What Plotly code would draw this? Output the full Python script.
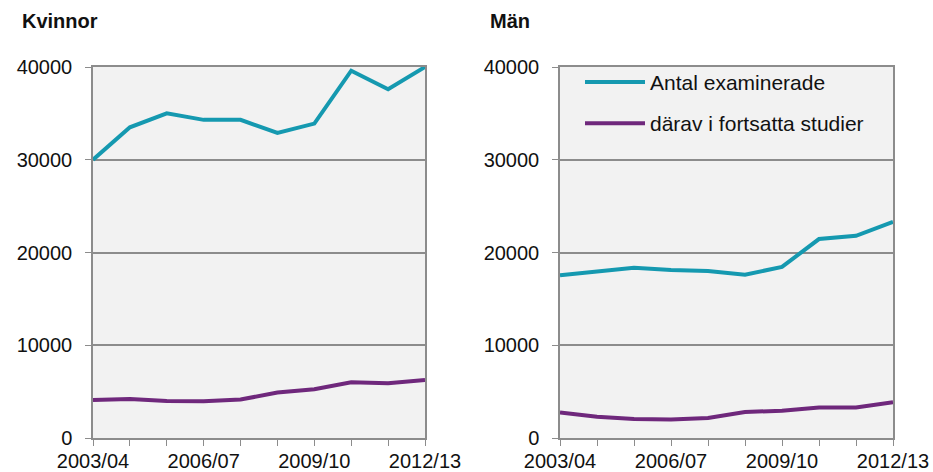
import plotly.graph_objects as go
from plotly.subplots import make_subplots

years = ['2003/04', '2004/05', '2005/06', '2006/07', '2007/08',
         '2008/09', '2009/10', '2010/11', '2011/12', '2012/13']
tick_text = ['2003/04', '', '', '2006/07', '', '', '2009/10', '', '', '2012/13']

kvinnor_examinerade = [30000, 33500, 35000, 34300, 34300, 32900, 33900, 39600, 37600, 40000]
kvinnor_fortsatta = [4100, 4200, 4000, 3950, 4150, 4900, 5250, 6000, 5900, 6250]
man_examinerade = [17550, 17950, 18350, 18100, 18000, 17600, 18450, 21450, 21800, 23300]
man_fortsatta = [2750, 2300, 2050, 2000, 2150, 2800, 2950, 3300, 3300, 3850]

TEAL = '#1599B0'
PURPLE = '#6F287C'
FONT = 'Liberation Sans, Arial, sans-serif'

W, H = 933, 472
TOP, BOTTOM = 67, 34

fig = make_subplots(rows=1, cols=2)

fig.add_trace(go.Scatter(x=years, y=kvinnor_examinerade, mode='lines', showlegend=False,
                         line=dict(color=TEAL, width=4)), row=1, col=1)
fig.add_trace(go.Scatter(x=years, y=kvinnor_fortsatta, mode='lines', showlegend=False,
                         line=dict(color=PURPLE, width=4)), row=1, col=1)
fig.add_trace(go.Scatter(x=years, y=man_examinerade, mode='lines', name='Antal examinerade',
                         legendgroup='a', line=dict(color=TEAL, width=4)), row=1, col=2)
fig.add_trace(go.Scatter(x=years, y=man_fortsatta, mode='lines', name='därav i fortsatta studier',
                         legendgroup='b', line=dict(color=PURPLE, width=4)), row=1, col=2)

axis_x = dict(type='category', range=[0, 9], tickvals=years, ticktext=tick_text,
              ticks='outside', ticklen=6, tickcolor='#8c8c8c', showline=True,
              linecolor='#8c8c8c', linewidth=1.5, mirror=True, showgrid=False,
              automargin=False, tickangle=0,
              tickfont=dict(size=20, color='#111111'), ticklabelstandoff=-2)
axis_y = dict(range=[0, 40000], tickvals=[0, 10000, 20000, 30000, 40000],
              ticktext=['0', '10000', '20000', '30000', '40000'],
              ticks='outside', ticklen=6, tickcolor='#8c8c8c', showline=True,
              linecolor='#8c8c8c', linewidth=1.5, mirror=True, showgrid=True,
              gridcolor='#8c8c8c', gridwidth=1.5, zeroline=False, automargin=False,
              tickfont=dict(size=20, color='#111111'), ticklabelstandoff=9)

fig.update_xaxes(**axis_x)
fig.update_yaxes(**axis_y)
fig.update_xaxes(domain=[93 / W, 425 / W], row=1, col=1)
fig.update_xaxes(domain=[560 / W, 893 / W], row=1, col=2)

title_y = (H - BOTTOM - 21) / (H - TOP - BOTTOM)

fig.update_layout(
    width=W, height=H,
    margin=dict(l=0, r=0, t=TOP, b=BOTTOM),
    paper_bgcolor='white', plot_bgcolor='#F2F2F2',
    font=dict(family=FONT, size=20, color='#111111'),
    legend=dict(x=580 / W, y=1.014, xanchor='left', yanchor='top', bgcolor='rgba(0,0,0,0)',
                tracegroupgap=11, itemwidth=60, font=dict(size=21)),
    annotations=[
        dict(text='<b>Kvinnor</b>', x=20 / W, y=title_y, xref='paper', yref='paper',
             xanchor='left', yanchor='middle', showarrow=False, font=dict(size=20)),
        dict(text='<b>Män</b>', x=488 / W, y=title_y, xref='paper', yref='paper',
             xanchor='left', yanchor='middle', showarrow=False, font=dict(size=20)),
    ],
)

fig.write_html('out.html', config={'displayModeBar': False},
               post_script="document.body.style.margin='0';")
